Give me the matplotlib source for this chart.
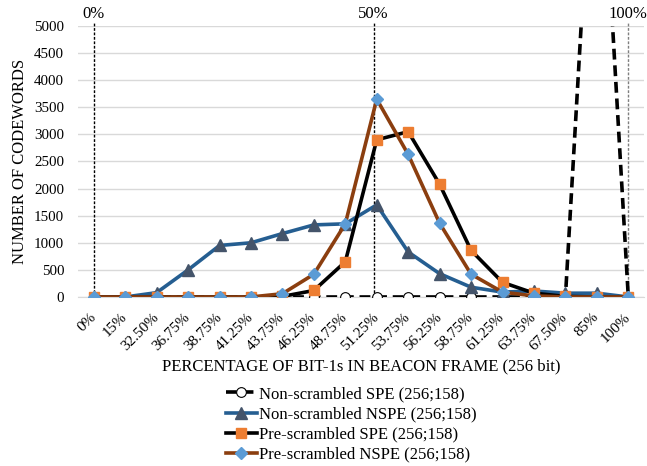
import matplotlib.pyplot as plt
import numpy as np

plt.rcParams['font.family'] = ['Liberation Serif', 'DejaVu Serif']

# 數據
categories = ['0%', '15%', '32.50%', '36.75%', '38.75%', '41.25%', '43.75%', '46.25%',
              '48.75%', '51.25%', '53.75%', '56.25%', '58.75%', '61.25%', '63.75%',
              '67.50%', '85%', '100%']
nonscr_spe = [0, 0, 0, 0, 0, 0, 0, 0, 0, 0, 0, 0, 0, 0, 0, 0, 10000, 0]
nonscr_nspe = [0, 0, 80, 500, 950, 1000, 1170, 1330, 1350, 1700, 830, 430, 180, 90, 110, 70, 70, 0]
pre_spe = [0, 0, 0, 0, 0, 0, 10, 120, 650, 2900, 3050, 2080, 860, 270, 70, 10, 0, 0]
pre_nspe = [0, 0, 0, 0, 0, 0, 60, 420, 1350, 3650, 2630, 1360, 420, 90, 20, 0, 0, 0]
ref_lines = [(0, '0%'), (8.9, '50%'), (17, '100%')]

fig = plt.figure(figsize=(6.47, 4.66), dpi=100)
ax = fig.add_axes([0.1206, 0.3627, 0.8748, 0.5815])

x = np.arange(len(categories))

ax.plot(x, nonscr_spe, color='black', lw=2.6, ls=(0, (3, 1.6)), marker='o', ms=7,
        mfc='white', mec='black', mew=0.8, label='Non-scrambled SPE (256;158)', zorder=3)
ax.plot(x, nonscr_nspe, color='#255E91', lw=2.6, marker='^', ms=9,
        mfc='#44546A', mec='#44546A', label='Non-scrambled NSPE (256;158)', zorder=4)
ax.plot(x, pre_spe, color='black', lw=2.6, marker='s', ms=7,
        mfc='#ED7D31', mec='#ED7D31', label='Pre-scrambled SPE (256;158)', zorder=5)
ax.plot(x, pre_nspe, color='#8B3E0F', lw=2.6, marker='D', ms=6.5,
        mfc='#5B9BD5', mec='#5B9BD5', label='Pre-scrambled NSPE (256;158)', zorder=6)

# 參考線 0% / 50% / 100%
for pos, txt in ref_lines:
    c = '#7F7F7F' if txt == '100%' else 'black'
    ax.plot([pos, pos], [0, 5080], color=c, lw=1, ls=(0, (2, 1.2)), clip_on=False, zorder=2)
    ax.text(pos, 5220, txt, ha='center', va='center', fontsize=12, clip_on=False)

ax.set_xlim(-0.5, 17.5)
ax.set_ylim(0, 5000)
ax.set_yticks(np.arange(0, 5001, 500))
ax.set_xticks(x)
ax.set_xticklabels(categories, rotation=45, ha='right', va='center', rotation_mode='anchor')
ax.tick_params(axis='y', length=0, labelsize=10.8, pad=10)
ax.tick_params(axis='x', length=0, labelsize=11, pad=13)
ax.yaxis.grid(True, color='#D9D9D9', lw=1)
ax.set_axisbelow(True)
for s in ['top', 'right', 'left']:
    ax.spines[s].set_visible(False)
ax.spines['bottom'].set_color('#D9D9D9')

ax.set_ylabel('NUMBER OF CODEWORDS', fontsize=12, labelpad=4)
ax.set_xlabel('PERCENTAGE OF BIT-1s IN BEACON FRAME (256 bit)', fontsize=12, labelpad=4)

fig.legend(loc='upper left', bbox_to_anchor=(0.349, 0.171), frameon=False, fontsize=12,
           handlelength=1.86, handletextpad=0.12, labelspacing=0.25, borderpad=0,
           borderaxespad=0)

plt.savefig('out.png', dpi=100)
